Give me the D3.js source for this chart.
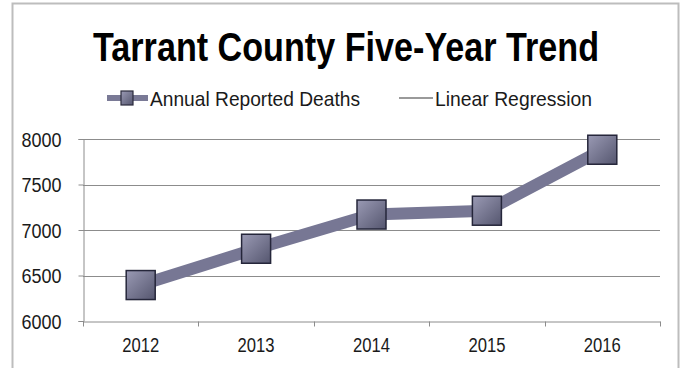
<!DOCTYPE html>
<html>
<head>
<meta charset="utf-8">
<script src="https://cdn.jsdelivr.net/npm/d3@7"></script>
<style>
  html, body { margin: 0; padding: 0; background: #fff; }
  svg { display: block; }
  text { font-family: "Liberation Sans Narrow", "Arial Narrow", "Liberation Sans", Arial, sans-serif; fill: #1a1a1a; }
</style>
</head>
<body>
<svg id="chart" width="686" height="368"></svg>
<script>
// Annual reported deaths, Tarrant County
const years = ["2012", "2013", "2014", "2015", "2016"];
const deaths = [6395, 6794, 7170, 7212, 7882];
const yTicks = [6000, 6500, 7000, 7500, 8000];
const titleText = "Tarrant County Five-Year Trend";
const seriesNames = ["Annual Reported Deaths", "Linear Regression"];

const svg = d3.select("#chart");
const labelFont = "\"Liberation Sans Narrow\", \"Arial Narrow\", \"Liberation Sans\", sans-serif";

// Gradient for the square markers
const defs = svg.append("defs");
const grad = defs.append("linearGradient")
  .attr("id", "markerFill").attr("x1", 0).attr("y1", 0).attr("x2", 1).attr("y2", 1);
grad.append("stop").attr("offset", "0%").attr("stop-color", "#9a9ab4");
grad.append("stop").attr("offset", "100%").attr("stop-color", "#55566f");

// Chart frame
svg.append("rect")
  .attr("x", 12.5).attr("y", 3.5).attr("width", 666).attr("height", 380)
  .attr("fill", "#fff").attr("stroke", "#bdbdbd").attr("stroke-width", 2);

// Title
svg.append("text")
  .attr("x", 346).attr("y", 61)
  .attr("text-anchor", "middle")
  .attr("font-size", 40).attr("font-weight", "bold")
  .attr("textLength", 506).attr("lengthAdjust", "spacingAndGlyphs")
  .style("fill", "#000")
  .text(titleText);

// Legend
const lg = svg.append("g");
lg.append("line").attr("x1", 107).attr("x2", 148).attr("y1", 98).attr("y2", 98)
  .attr("stroke", "#7a7a96").attr("stroke-width", 6);
lg.append("rect").attr("x", 121).attr("y", 91).attr("width", 12).attr("height", 14)
  .attr("fill", "url(#markerFill)").attr("stroke", "#2b2b3c").attr("stroke-width", 1.2);
lg.append("text").attr("x", 150).attr("y", 106).attr("font-size", 21)
  .attr("textLength", 210).attr("lengthAdjust", "spacingAndGlyphs")
  .text(seriesNames[0]);
lg.append("line").attr("x1", 399).attr("x2", 433).attr("y1", 98).attr("y2", 98)
  .attr("stroke", "#9a9a9a").attr("stroke-width", 2);
lg.append("text").attr("x", 435).attr("y", 106).attr("font-size", 21)
  .attr("textLength", 157).attr("lengthAdjust", "spacingAndGlyphs")
  .text(seriesNames[1]);

// Plot area
const plot = { left: 83, right: 660, top: 139, bottom: 321 };

const x = d3.scaleBand().domain(years).range([plot.left, plot.right]).padding(0);
const y = d3.scaleLinear().domain([6000, 8000]).range([plot.bottom, plot.top]);

// Horizontal gridlines
svg.append("g")
  .selectAll("line")
  .data(yTicks.filter(t => t !== 6000))
  .join("line")
  .attr("x1", plot.left).attr("x2", plot.right)
  .attr("y1", d => Math.round(y(d)) + 0.5).attr("y2", d => Math.round(y(d)) + 0.5)
  .attr("stroke", "#8c8c8c").attr("stroke-width", 1);

// Y axis
const yAxis = svg.append("g")
  .attr("transform", `translate(${plot.left + 0.5},0)`)
  .call(d3.axisLeft(y).tickValues(yTicks).tickSize(5).tickPadding(17).tickFormat(d3.format("d")));
yAxis.select(".domain").attr("stroke", "#8c8c8c");
yAxis.selectAll(".tick line").attr("stroke", "#8c8c8c");
yAxis.selectAll(".tick text")
  .attr("font-size", 20).attr("font-family", labelFont).style("fill", "#1a1a1a")
  .attr("dy", "0.36em")
  .attr("textLength", 40).attr("lengthAdjust", "spacingAndGlyphs");

// X axis with ticks at category boundaries
const xAxis = svg.append("g")
  .attr("transform", `translate(0,${plot.bottom + 0.5})`)
  .call(d3.axisBottom(x).tickSize(0).tickPadding(16));
xAxis.select(".domain").attr("stroke", "#8c8c8c");
xAxis.selectAll(".tick text")
  .attr("font-size", 20).attr("font-family", labelFont).style("fill", "#1a1a1a")
  .attr("textLength", 37).attr("lengthAdjust", "spacingAndGlyphs");
const bounds = years.map(d => x(d)).concat([x(years[years.length - 1]) + x.bandwidth()]);
xAxis.selectAll(".bound")
  .data(bounds)
  .join("line")
  .attr("class", "bound")
  .attr("x1", d => Math.round(d) + 0.5).attr("x2", d => Math.round(d) + 0.5)
  .attr("y1", 0).attr("y2", 5)
  .attr("stroke", "#8c8c8c");

// Series line
const pts = years.map((yr, i) => ({ yr, v: deaths[i] }));
const cx = d => x(d.yr) + x.bandwidth() / 2;
svg.append("path")
  .datum(pts)
  .attr("fill", "none")
  .attr("stroke", "#777794")
  .attr("stroke-width", 12)
  .attr("stroke-linejoin", "round")
  .attr("d", d3.line().x(cx).y(d => y(d.v)));

// Square markers
const ms = 29;
svg.append("g")
  .selectAll("rect")
  .data(pts)
  .join("rect")
  .attr("x", d => cx(d) - ms / 2)
  .attr("y", d => y(d.v) - ms / 2)
  .attr("width", ms).attr("height", ms)
  .attr("fill", "url(#markerFill)")
  .attr("stroke", "#25263a").attr("stroke-width", 1.5);
</script>
</body>
</html>
